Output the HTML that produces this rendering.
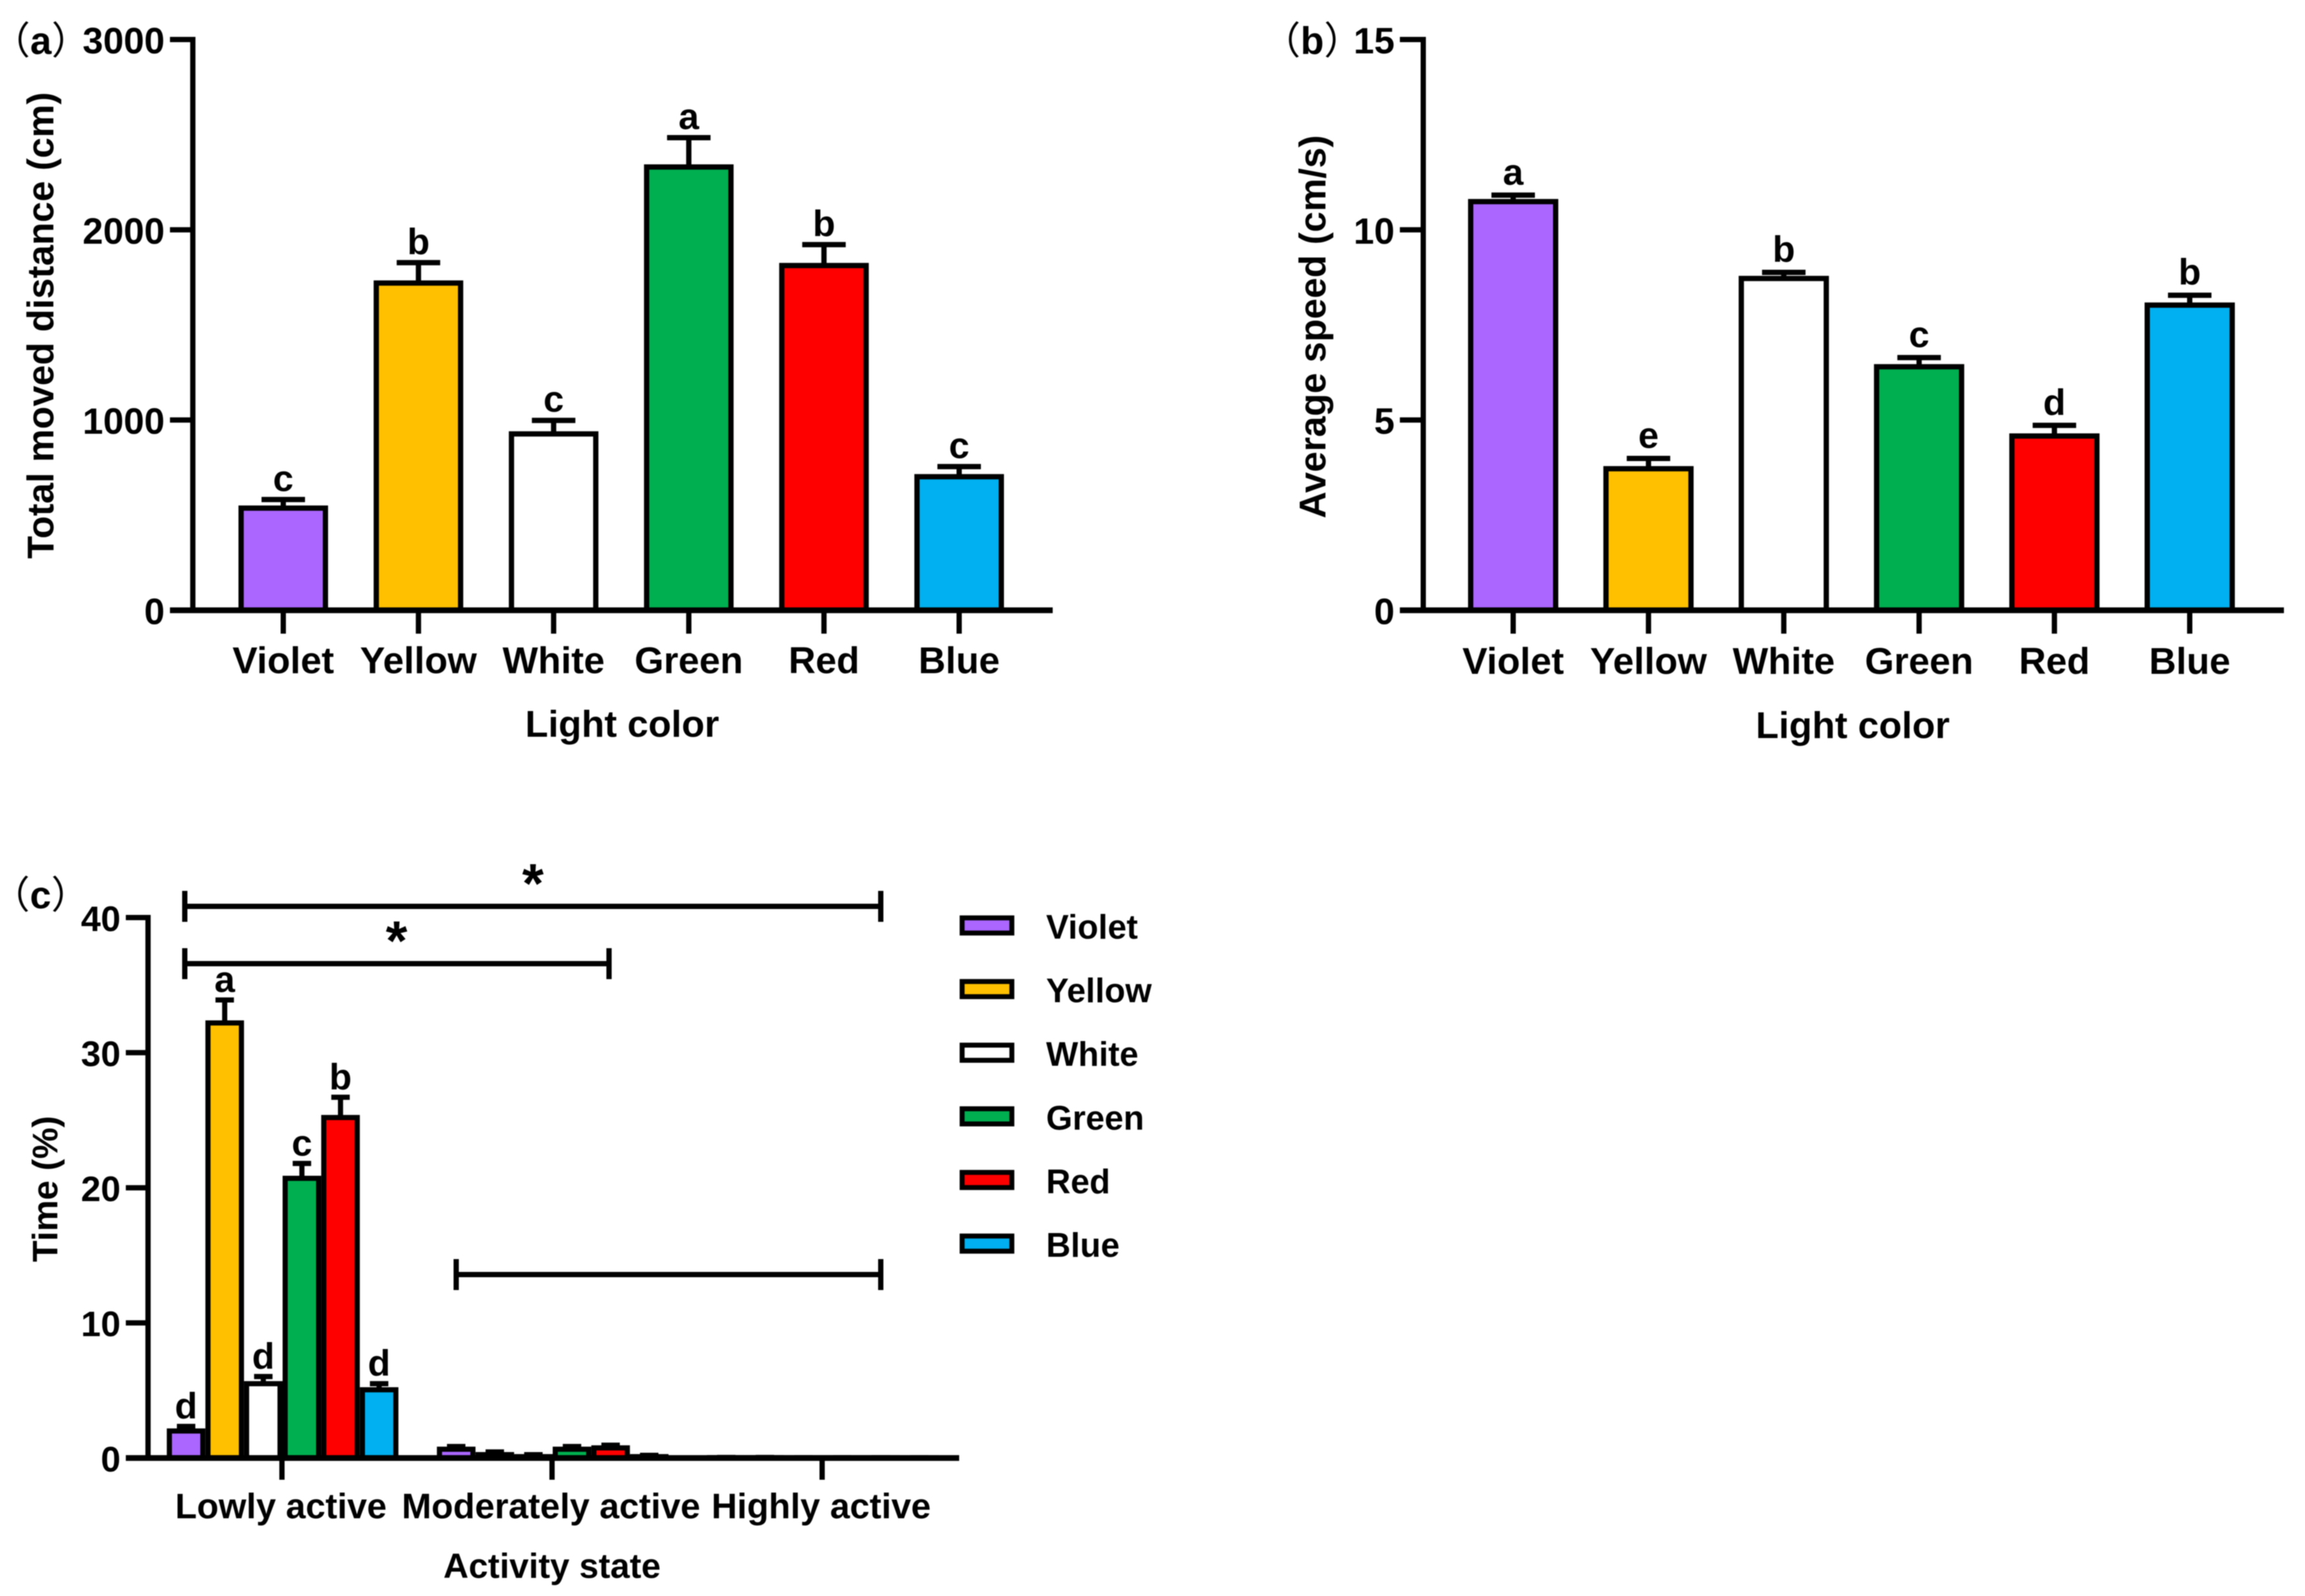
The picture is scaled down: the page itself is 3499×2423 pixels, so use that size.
<!DOCTYPE html>
<html lang="en">
<head>
<meta charset="utf-8">
<title>Light color behaviour charts</title>
<style>
html,body{margin:0;padding:0;background:#fff;}
svg{display:block;filter:blur(0.7px);}
text{font-family:"Liberation Sans","Noto Sans CJK SC",sans-serif;font-weight:700;fill:#000;}
</style>
</head>
<body>
<svg id="fig" xmlns="http://www.w3.org/2000/svg" width="3499" height="2423" viewBox="0 0 3499 2423"></svg>
<script>
const colorNames = ['Violet', 'Yellow', 'White', 'Green', 'Red', 'Blue'];
const colorFills = ['#AA66FF', '#FFC000', '#FFFFFF', '#00B050', '#FF0000', '#00B0F0'];

const distanceMeans = [537, 1720, 927, 2330, 1812, 702];
const distanceErrors = [45, 107, 71, 154, 110, 53];
const distanceLetters = ['c', 'b', 'c', 'a', 'b', 'c'];
const distanceTicks = [0, 1000, 2000, 3000];

const speedMeans = [10.74, 3.72, 8.72, 6.40, 4.58, 8.02];
const speedErrors = [0.17, 0.27, 0.16, 0.24, 0.28, 0.26];
const speedLetters = ['a', 'e', 'b', 'c', 'd', 'b'];
const speedTicks = [0, 5, 10, 15];

const stateNames = ['Lowly active', 'Moderately active', 'Highly active'];
const timeTicks = [0, 10, 20, 30, 40];
const violetTime = [2.0, 0.65, 0.03];
const yellowTime = [32.2, 0.25, 0.03];
const whiteTime = [5.5, 0.10, 0.02];
const greenTime = [20.7, 0.65, 0.02];
const redTime = [25.2, 0.75, 0.02];
const blueTime = [5.05, 0.10, 0.01];
const violetTimeErr = [0.34, 0.20, 0.01];
const yellowTimeErr = [1.7, 0.20, 0.01];
const whiteTimeErr = [0.53, 0.15, 0.01];
const greenTimeErr = [1.1, 0.20, 0.01];
const redTimeErr = [1.5, 0.20, 0.01];
const blueTimeErr = [0.45, 0.10, 0.01];
const lowLetters = ['d', 'a', 'd', 'c', 'b', 'd'];

const svg = document.getElementById('fig');
const NS = 'http://www.w3.org/2000/svg';

function add(tag, attrs, parent) {
  const el = document.createElementNS(NS, tag);
  for (const k in attrs) el.setAttribute(k, attrs[k]);
  (parent || svg).appendChild(el);
  return el;
}
function label(str, x, y, size, anchor, parent, rotate) {
  const el = add('text', {x: x, y: y, 'font-size': size, 'text-anchor': anchor}, parent);
  if (rotate) el.setAttribute('transform', 'rotate(-90 ' + x + ' ' + y + ')');
  el.textContent = str;
  return el;
}
function panelTag(letter, x, y, parent) {
  const el = add('text', {x: x, y: y, 'font-size': 58, 'text-anchor': 'middle'}, parent);
  const open = add('tspan', {'font-weight': 400}, el);
  open.textContent = '（';
  const mid = add('tspan', {}, el);
  mid.textContent = letter;
  const close = add('tspan', {'font-weight': 400}, el);
  close.textContent = '）';
  return el;
}
function hline(x1, x2, y, w, parent) {
  return add('line', {x1: x1, x2: x2, y1: y, y2: y, stroke: '#000', 'stroke-width': w}, parent);
}
function vline(x, y1, y2, w, parent) {
  return add('line', {x1: x, x2: x, y1: y1, y2: y2, stroke: '#000', 'stroke-width': w}, parent);
}
function linearY(maxVal, top, base) {
  return v => base - (v / maxVal) * (base - top);
}

function drawBar(g, cx, halfW, y0, yv, yErr, capHalf, fill, stroke) {
  vline(cx, yErr, yv, stroke, g);
  hline(cx - capHalf, cx + capHalf, yErr, stroke, g);
  return add('rect', {x: cx - halfW, y: yv, width: halfW * 2, height: Math.max(0, y0 - yv), fill: fill, stroke: '#000', 'stroke-width': stroke}, g);
}

function drawYAxis(p, ticks, y, xAxis, tickLeft, top, base, size) {
  const g = add('g', {}, p);
  
  
  vline(xAxis, top - 4, base + 4, 8, g);
  ticks.forEach(t => {
    hline(tickLeft, xAxis, y(t), 8, g);
    const tl = label(String(t), tickLeft - 8, y(t) + size * 0.375, size, 'end', g);
    
    
  });
}

function simplePanel(cfg) {
  const p = add('g', {});
  
  
  const y = linearY(cfg.maxVal, cfg.top, cfg.base);
  const cx = i => cfg.firstX + i * cfg.stepX;
  cfg.means.forEach((m, i) => {
    const g = add('g', {}, p);
    
    
    const yErr = y(m + cfg.errors[i]);
    drawBar(g, cx(i), cfg.halfW, cfg.base, y(m), yErr, cfg.capHalf, colorFills[i], 8);
    const sig = label(cfg.letters[i], cx(i), yErr - cfg.letterGap, 56, 'middle', g);
    
    
  });
  drawYAxis(p, cfg.ticks, y, cfg.axisX, cfg.tickLeft, cfg.top, cfg.base, 56);
  const xa = add('g', {}, p);
  
  
  hline(cfg.tickLeft, cfg.axisEnd, cfg.base, 8.7, xa);
  colorNames.forEach((n, i) => {
    vline(cx(i), cfg.base, cfg.base + 35.5, 8, xa);
    const t = label(n, cx(i), cfg.catY, 57, 'middle', xa);
    
    
  });
  const xt = label('Light color', cfg.xTitleX, cfg.xTitleY, 57, 'middle', p);
  
  
  const yt = label(cfg.yTitle, cfg.yTitleX, cfg.yTitleY, 56.5, 'middle', p, true);
  
  
  const pl = panelTag(cfg.tag, cfg.tagX, 82, p);
  
  
}

simplePanel({
  name: 'panel-a-distance-chart', tag: 'a', tagX: 62,
  means: distanceMeans, errors: distanceErrors, letters: distanceLetters, ticks: distanceTicks,
  maxVal: 3000, top: 60, base: 926.5, firstX: 430, stepX: 205.2, halfW: 64, capHalf: 33,
  axisX: 292.7, tickLeft: 258, axisEnd: 1598, catY: 1022, letterGap: 13,
  xTitleX: 944.5, xTitleY: 1118.5, yTitle: 'Total moved distance (cm)', yTitleX: 81, yTitleY: 494
});

simplePanel({
  name: 'panel-b-speed-chart', tag: 'b', tagX: 1992,
  means: speedMeans, errors: speedErrors, letters: speedLetters, ticks: speedTicks,
  maxVal: 15, top: 60, base: 926.5, firstX: 2297, stepX: 205.4, halfW: 64.5, capHalf: 33,
  axisX: 2160.5, tickLeft: 2125, axisEnd: 3467, catY: 1023, letterGap: 16,
  xTitleX: 2812.5, xTitleY: 1120.5, yTitle: 'Average speed (cm/s)', yTitleX: 2012, yTitleY: 496
});

(function panelC() {
  const p = add('g', {});
  
  
  const top = 1393, base = 2213.5;
  const y = linearY(40, top, base);
  const seriesVals = [violetTime, yellowTime, whiteTime, greenTime, redTime, blueTime];
  const seriesErrs = [violetTimeErr, yellowTimeErr, whiteTimeErr, greenTimeErr, redTimeErr, blueTimeErr];
  const groupX = g => 429 + g * 410;
  const barX = (g, s) => groupX(g) + (s - 2.5) * 58.6;
  stateNames.forEach((state, gi) => {
    seriesVals.forEach((vals, si) => {
      const g = add('g', {}, p);
      
      
      const yErr = y(vals[gi] + seriesErrs[si][gi]);
      drawBar(g, barX(gi, si), 25.4, base, y(vals[gi]), yErr, 14, colorFills[si], 7.8);
      if (gi === 0) {
        const sig = label(lowLetters[si], barX(gi, si), yErr - 12, 56, 'middle', g);
        
        
      }
    });
  });
  drawYAxis(p, timeTicks, y, 224.7, 191, top, base, 54);
  const xa = add('g', {}, p);
  
  
  hline(191, 1456, base, 8.7, xa);
  stateNames.forEach((state, gi) => {
    vline(groupX(gi) - 1, base, base + 33, 8, xa);
    const t = label(state, groupX(gi) - 2.5, 2305, 54, 'middle', xa);
    
    
  });
  const xt = label('Activity state', 838, 2395.5, 53, 'middle', p);
  
  
  const yt = label('Time (%)', 87, 1805, 53.5, 'middle', p, true);
  
  
  const pl = panelTag('c', 61.5, 1379, p);
  
  

  const br = [
    {x1: 280.5, x2: 1337, y: 1376, star: 809, name: 'significance-bracket-low-high'},
    {x1: 280.5, x2: 924.5, y: 1463, star: 602, name: 'significance-bracket-low-moderate'},
    {x1: 692.5, x2: 1337, y: 1935, star: null, name: 'bracket-moderate-high'}
  ];
  br.forEach(b => {
    const g = add('g', {}, p);
    
    
    hline(b.x1, b.x2, b.y, 8, g);
    vline(b.x1, b.y - 23.5, b.y + 23.5, 8, g);
    vline(b.x2, b.y - 23.5, b.y + 23.5, 8, g);
    if (b.star !== null) {
      const s = label('*', b.star, b.y - 6, 84, 'middle', g);
      
      
    }
  });

  const lg = add('g', {}, p);
  
  
  colorNames.forEach((n, i) => {
    const g = add('g', {}, lg);
    
    
    const cy = 1405 + i * 96.6;
    add('rect', {x: 1460.5, y: cy - 11.5, width: 75.5, height: 23, fill: colorFills[i], stroke: '#000', 'stroke-width': 7.5}, g);
    label(n, 1588, cy + 20, 51.5, 'start', g);
  });
})();
</script>
</body>
</html>
